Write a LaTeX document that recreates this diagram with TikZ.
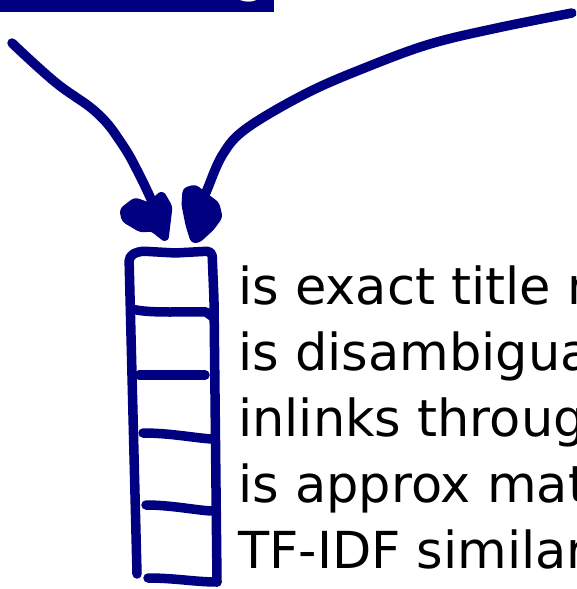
\documentclass[tikz,border=0pt]{standalone}
\usepackage{fontspec}
\setmainfont{DejaVu Sans}
\definecolor{navyc}{RGB}{0,0,128}
\tikzset{
  sk/.style={draw=navyc, line width=9.5pt, line cap=round, line join=round},
  head/.style={fill=navyc, draw=navyc, line width=5pt, line join=round, rounded corners=3pt},
  lbl/.style={anchor=base west, inner sep=0pt, font=\fontsize{51}{66}\selectfont, text=black},
}
\begin{document}
\begin{tikzpicture}[x=1pt,y=-1pt]
\path[use as bounding box] (0,0) rectangle (576,589);
\clip (0,0) rectangle (576,589);
% top box
\fill[navyc] (-10,-80) rectangle (274,11.5);
\node[anchor=base east, inner sep=0pt, text=white, font=\fontsize{51}{60}\selectfont] (top) at (267,-9) {Query matching};
% coordinates for arrows
\coordinate (ls) at (12,43);
\coordinate (le) at (155,208);
\coordinate (rs) at (572,13);
\coordinate (re) at (201,205);
% left arrow
\draw[sk] plot[smooth, tension=0.7] coordinates {(ls) (55,82) (97,113) (122,144) (140,176) (le)};
\fill[head] (122,210) -- (135,200) -- (149,205) -- (162,193) -- (170,207) -- (166,240) -- (152,229) -- (141,230) -- (124,220) -- cycle;
% right arrow
\draw[sk] plot[smooth, tension=0.6] coordinates {(rs) (497,28) (430,44) (367,67) (307,93) (247,128) (223,154) (207,190) (re)};
\fill[head] (185,190) -- (195,187) -- (205,195) -- (217,204) -- (220,217) -- (212,228) -- (199,240) -- (193,241) -- (188,225) -- (184,205) -- cycle;
% ladder
\draw[sk, rounded corners=5pt] (137,574) -- (129,256) -- (140,251) -- (175,253) -- (212,251) -- (214,300) -- (217,582);
\draw[sk] (148,578) .. controls (175,578) and (195,582) .. (217,582);
\draw[sk] (132,309) .. controls (150,314) and (190,311) .. (206,312) -- (213,317);
\draw[sk] (139,375) -- (205,375);
\draw[sk] (143,433) .. controls (170,433) and (195,438) .. (212,439);
\draw[sk] (146,505) .. controls (170,505) and (195,510) .. (211,511);
% labels
\node[lbl] (t1) at (238,304) {is exact title match};
\node[lbl] (t2) at (238,370) {is disambiguation};
\node[lbl] (t3) at (238,436) {inlinks through};
\node[lbl] (t4) at (238,502) {is approx match};
\node[lbl] (t5) at (238,568) {TF-IDF similarity};
\end{tikzpicture}
\end{document}
